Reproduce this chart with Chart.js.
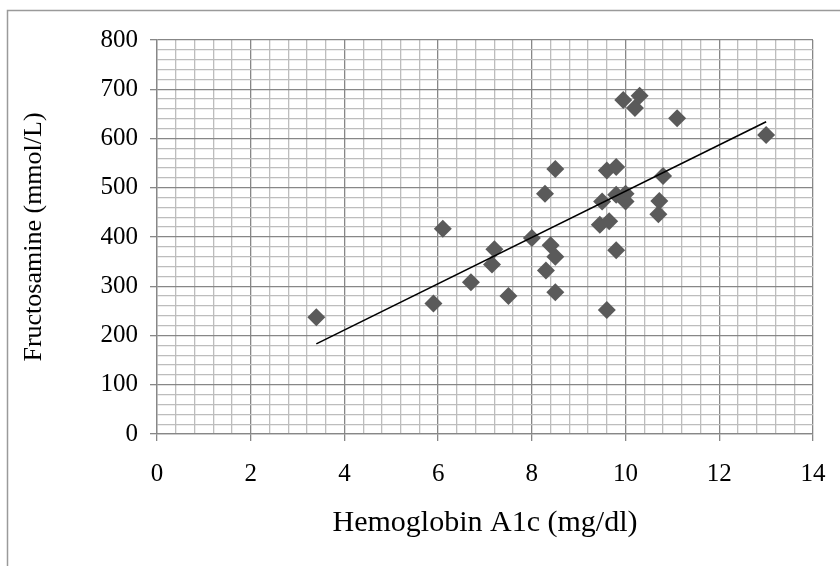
<!DOCTYPE html>
<html>
<head>
<meta charset="utf-8">
<script src="https://cdn.jsdelivr.net/npm/chart.js@4"></script>
<style>
  html, body { margin: 0; padding: 0; background: #fff; }
  #wrap { width: 840px; height: 566px; position: relative; }
</style>
</head>
<body>
<div id="wrap"><canvas id="c" width="840" height="566"></canvas></div>
<script>
// Data
const hba1c = [3.4, 5.9, 6.1, 6.7, 7.2, 7.15, 7.5, 8.0, 8.28, 8.3, 8.4, 8.5, 8.5, 8.5, 9.45, 9.5, 9.65, 9.6, 9.6, 9.8, 9.8, 9.8, 10.0, 10.0, 9.95, 10.2, 10.3, 10.7, 10.72, 10.8, 11.1, 13.0];
const fructosamine = [237, 265, 417, 308, 375, 344, 280, 398, 488, 332, 383, 360, 538, 288, 425, 472, 432, 535, 252, 373, 542, 486, 488, 472, 678, 662, 687, 446, 473, 524, 641, 607];
const trendX = [3.4, 13.0];
const trendY = [183, 634];
const xTickLabels = [0, 2, 4, 6, 8, 10, 12, 14];
const yTickLabels = [0, 100, 200, 300, 400, 500, 600, 700, 800];

const xTitle = 'Hemoglobin A1c (mg/dl)';
const yTitle = 'Fructosamine (mmol/L)';

const points = hba1c.map((x, i) => ({ x: x, y: fructosamine[i] }));
const trend = trendX.map((x, i) => ({ x: x, y: trendY[i] }));

const isMajor = (v, arr) => arr.some(a => Math.abs(a - v) < 1e-6);
const MINOR = '#bdbdbd';
const MAJOR = '#878787';

const framePlugin = {
  id: 'frame',
  beforeDraw(chart) {
    const ctx = chart.ctx;
    ctx.save();
    ctx.fillStyle = '#ffffff';
    ctx.fillRect(0, 0, chart.width, chart.height);
    ctx.strokeStyle = '#9a9a9a';
    ctx.lineWidth = 1.5;
    ctx.strokeRect(7.5, 10.5, 860, 600);
    ctx.restore();
  }
};

new Chart(document.getElementById('c'), {
  type: 'scatter',
  data: {
    datasets: [
      {
        type: 'line',
        data: trend,
        borderColor: '#000000',
        borderWidth: 1.6,
        pointRadius: 0,
        fill: false,
        order: 0
      },
      {
        data: points,
        pointStyle: 'rectRot',
        pointRadius: 9,
        pointHoverRadius: 9,
        backgroundColor: '#5a5a5a',
        borderColor: '#5a5a5a',
        borderWidth: 0,
        order: 1
      }
    ]
  },
  options: {
    responsive: false,
    animation: false,
    devicePixelRatio: 1,
    layout: { padding: { left: 0, top: 40, right: 27, bottom: 0 } },
    plugins: {
      legend: { display: false },
      tooltip: { enabled: false }
    },
    scales: {
      x: {
        type: 'linear',
        min: 0,
        max: 14,
        afterFit(scale) { scale.height = 132; scale.paddingLeft = 0; scale.paddingRight = 0; },
        ticks: {
          stepSize: 0.4,
          autoSkip: false,
          maxRotation: 0,
          padding: 18,
          color: '#000',
          font: { family: 'Liberation Serif', size: 25 },
          callback: (v) => isMajor(v, xTickLabels) ? String(Math.round(v)) : ''
        },
        grid: {
          drawOnChartArea: true,
          tickLength: 7,
          color: (c) => isMajor(c.tick ? c.tick.value : 0, xTickLabels) ? MAJOR : MINOR,
          tickColor: (c) => isMajor(c.tick ? c.tick.value : 0, xTickLabels) ? MAJOR : 'rgba(0,0,0,0)',
          lineWidth: 1.3
        },
        border: { color: MAJOR, width: 1.3 },
        title: {
          display: true,
          text: xTitle,
          color: '#000',
          font: { family: 'Liberation Serif', size: 30 },
          padding: { top: 0, bottom: 25 }
        }
      },
      y: {
        type: 'linear',
        min: 0,
        max: 800,
        afterFit(scale) { scale.width = 157; scale.paddingTop = 0; scale.paddingBottom = 0; },
        ticks: {
          stepSize: 20,
          autoSkip: false,
          padding: 12,
          color: '#000',
          font: { family: 'Liberation Serif', size: 25 },
          callback: (v) => isMajor(v, yTickLabels) ? String(Math.round(v)) : ''
        },
        grid: {
          tickLength: 7,
          color: (c) => isMajor(c.tick ? c.tick.value : 0, yTickLabels) ? MAJOR : MINOR,
          tickColor: (c) => isMajor(c.tick ? c.tick.value : 0, yTickLabels) ? MAJOR : 'rgba(0,0,0,0)',
          lineWidth: 1.3
        },
        border: { color: MAJOR, width: 1.3 },
        title: {
          display: true,
          text: yTitle,
          color: '#000',
          font: { family: 'Liberation Serif', size: 26 },
          padding: { top: 19, bottom: 0 }
        }
      }
    }
  },
  plugins: [framePlugin]
});
</script>
</body>
</html>
